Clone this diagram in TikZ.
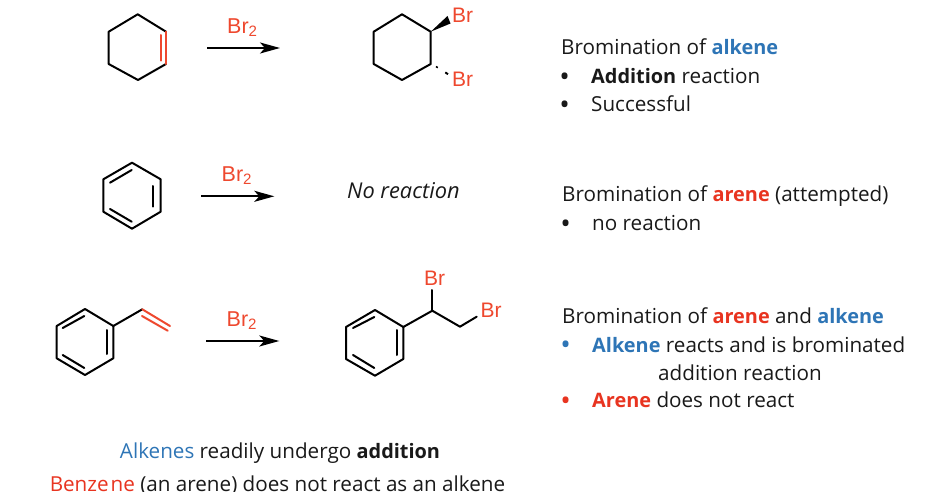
\documentclass[tikz,border=0pt]{standalone}
\usepackage{fontspec}
\setmainfont{Open Sans}
\newfontfamily\chemfont{Liberation Sans}
\usetikzlibrary{arrows.meta}
\definecolor{chemred}{RGB}{238,72,46}
\definecolor{txtred}{RGB}{232,52,32}
\definecolor{txtblue}{RGB}{46,117,182}
\definecolor{txtblack}{RGB}{25,25,25}
\tikzset{
  x=1pt,y=-1pt,
  bond/.style={line width=2pt,line join=round,line cap=round,black},
  redbond/.style={bond,draw=chemred},
  rxn/.style={line width=2pt,-{Stealth[length=20pt,width=11pt,inset=5pt]}},
  reagent/.style={anchor=base west,inner sep=0pt,font=\chemfont\fontsize{21.5}{24}\selectfont,text=chemred},
  atomlabel/.style={anchor=base west,inner sep=0pt,font=\chemfont\fontsize{21}{24}\selectfont,text=chemred},
  label/.style={anchor=base west,inner sep=0pt,font=\fontsize{20.65}{24}\selectfont,text=txtblack},
  bulletmark/.style={label,font=\fontsize{28}{30}\selectfont},
  ctr/.style={label,anchor=base},
}
\newcommand{\bd}[1]{{\fontsize{19.9}{24}\selectfont\bfseries #1}}
\newcommand{\rd}[1]{\textcolor{txtred}{\bd{#1}}}
\newcommand{\bl}[1]{\textcolor{txtblue}{\bd{#1}}}
\begin{document}
\begin{tikzpicture}
\useasboundingbox (0,0) rectangle (926,492);
% --- cyclohexene
\coordinate (a1) at (137.7,14.3);
\coordinate (a2) at (166,31.7);
\coordinate (a3) at (166,64);
\coordinate (a4) at (138,80);
\coordinate (a5) at (108.7,64);
\coordinate (a6) at (108.7,31.7);
\coordinate (a7) at (160.7,35);
\coordinate (a8) at (160.7,60.7);
\draw[bond] (a2) -- (a1) -- (a6) -- (a5) -- (a4) -- (a3);
\draw[redbond] (a2) -- (a3);
\draw[redbond] (a7) -- (a8);
\coordinate (r1s) at (207,48);
\coordinate (r1e) at (280,48);
\draw[rxn] (r1s) -- (r1e);
\node[reagent] (br1) at (227,33.5) {Br\textsubscript{2}};
% --- dibromide
\coordinate (b1) at (402,14.3);
\coordinate (b2) at (430.7,31.7);
\coordinate (b3) at (430.7,64);
\coordinate (b4) at (402,80);
\coordinate (b5) at (373.7,64);
\coordinate (b6) at (373.7,31.7);
\draw[bond] (b1) -- (b2) -- (b3) -- (b4) -- (b5) -- (b6) -- cycle;
\fill (b2) -- (447.5,16) -- (450.5,23.5) -- cycle;
\draw[line width=1.6pt] (436,66.5) -- (437.8,67.7);
\draw[line width=1.9pt] (445.3,72.4) -- (448,74.2);
\node[atomlabel] (brw) at (452,22.5) {Br};
\node[atomlabel] (brh) at (452,87) {Br};
% --- benzene
\coordinate (c1) at (132,162.7);
\coordinate (c2) at (160.7,179.3);
\coordinate (c3) at (160.7,211.7);
\coordinate (c4) at (132,228.7);
\coordinate (c5) at (103.3,211.7);
\coordinate (c6) at (103.3,179.3);
\draw[bond] (c1) -- (c2) -- (c3) -- (c4) -- (c5) -- (c6) -- cycle;
\coordinate (c7) at (153.3,186); \coordinate (c8) at (153.3,206.7);
\coordinate (c9) at (110,182.7); \coordinate (c10) at (131.7,170);
\coordinate (c11) at (110,209); \coordinate (c12) at (131.7,221.7);
\draw[bond] (c7) -- (c8);
\draw[bond] (c9) -- (c10);
\draw[bond] (c11) -- (c12);
\coordinate (r2s) at (201,196.3);
\coordinate (r2e) at (274.3,196.3);
\draw[rxn] (r2s) -- (r2e);
\node[reagent] (br2) at (221.5,181.5) {Br\textsubscript{2}};
\node[anchor=base west,inner sep=0pt,font=\itshape\fontsize{21.8}{24}\selectfont,text=txtblack] (nr) at (347,198) {No reaction};
% --- styrene
\coordinate (d1) at (85,309);
\coordinate (d2) at (113.3,326);
\coordinate (d3) at (113.3,358.3);
\coordinate (d4) at (85,375);
\coordinate (d5) at (56.7,358.3);
\coordinate (d6) at (56.7,326);
\coordinate (d7) at (142.3,309.3);
\coordinate (d8) at (170,326);
\coordinate (d9) at (142,316);
\coordinate (d10) at (167.7,330.7);
\draw[bond] (d1) -- (d2) -- (d3) -- (d4) -- (d5) -- (d6) -- cycle;
\draw[bond] (d2) -- (d7);
\draw[redbond] (d7) -- (d8);
\draw[redbond] (d9) -- (d10);
\coordinate (d11) at (107.3,330); \coordinate (d12) at (107.3,354);
\coordinate (d13) at (62.7,328); \coordinate (d14) at (84.3,316);
\coordinate (d15) at (62.7,355); \coordinate (d16) at (84.3,368);
\draw[bond] (d11) -- (d12);
\draw[bond] (d13) -- (d14);
\draw[bond] (d15) -- (d16);
\coordinate (r3s) at (206.3,341);
\coordinate (r3e) at (279.3,341);
\draw[rxn] (r3s) -- (r3e);
\node[reagent] (br3) at (226.5,326.2) {Br\textsubscript{2}};
% --- product
\coordinate (e1) at (375,310);
\coordinate (e2) at (403.3,327);
\coordinate (e3) at (403.3,359);
\coordinate (e4) at (375,375.7);
\coordinate (e5) at (346,359);
\coordinate (e6) at (346,327);
\coordinate (e7) at (432.3,310.7);
\coordinate (e8) at (432.3,290);
\coordinate (e9) at (460,326.7);
\coordinate (e10) at (476.7,316.7);
\draw[bond] (e1) -- (e2) -- (e3) -- (e4) -- (e5) -- (e6) -- cycle;
\draw[bond] (e2) -- (e7) -- (e9) -- (e10);
\draw[bond] (e7) -- (e8);
\coordinate (e11) at (396.7,330); \coordinate (e12) at (396.7,355);
\coordinate (e13) at (353,328); \coordinate (e14) at (374.3,317);
\coordinate (e15) at (353,355); \coordinate (e16) at (374.3,368);
\draw[bond] (e11) -- (e12);
\draw[bond] (e13) -- (e14);
\draw[bond] (e15) -- (e16);
\node[atomlabel] (bra) at (424,285) {Br};
\node[atomlabel] (brb) at (480.5,317) {Br};
% --- right text
\node[label] (t1) at (561,54.3) {Bromination of \bl{alkene}};
\node[bulletmark] (t2b) at (559.2,86.5) {•};
\node[label] (t2) at (591,84) {\bd{Addition} reaction};
\node[bulletmark] (t3b) at (559.2,114.5) {•};
\node[label] (t3) at (591,112) {Successful};
\node[label] (t4) at (562,201.7) {Bromination of \rd{arene} (attempted)};
\node[bulletmark] (t5b) at (560.2,233) {•};
\node[label] (t5) at (592,230.5) {no reaction};
\node[label] (t6) at (562,323.5) {Bromination of \rd{arene} and \bl{alkene}};
\node[bulletmark,text=txtblue] (t7b) at (560.2,354.5) {•};
\node[label] (t7) at (592,352) {\bl{Alkene} reacts and is brominated};
\node[label] (t8) at (658,380.3) {addition reaction};
\node[bulletmark,text=txtred] (t9b) at (560.2,410.2) {•};
\node[label] (t9) at (592,407.7) {\rd{Arene} does not react};
% --- bottom text
\node[ctr] (t10) at (280,458.5) {\textcolor{txtblue}{Alkenes} readily undergo \bd{addition}};
\node[ctr] (t11) at (277.5,491) {\textcolor{txtred}{Benze\kern2pt ne} (an arene) does not react as an alkene};
\end{tikzpicture}
\end{document}
